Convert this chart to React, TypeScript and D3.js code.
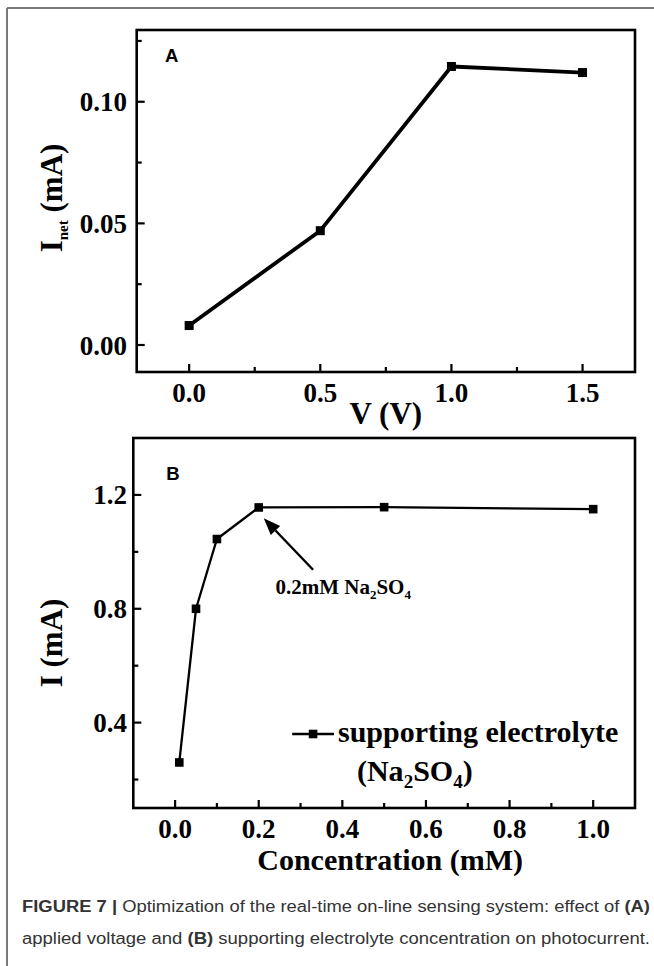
import React from 'react';
import * as d3 from 'd3';

// ---------- data ----------
const voltageA = [0, 0.5, 1.0, 1.5];
const currentA = [0.008, 0.047, 0.1145, 0.112];

const concB = [0.01, 0.05, 0.1, 0.2, 0.5, 1.0];
const currentB = [0.26, 0.8, 1.045, 1.156, 1.157, 1.15];

const xTicksA = [0, 0.5, 1.0, 1.5];
const xTickLabelsA = ['0.0', '0.5', '1.0', '1.5'];
const xMinorA = [0.25, 0.75, 1.25];
const yTicksA = [0, 0.05, 0.1];
const yTickLabelsA = ['0.00', '0.05', '0.10'];
const yMinorA = [0.025, 0.075, 0.125];

const xTicksB = [0, 0.2, 0.4, 0.6, 0.8, 1.0];
const xTickLabelsB = ['0.0', '0.2', '0.4', '0.6', '0.8', '1.0'];
const xMinorB = [0.1, 0.3, 0.5, 0.7, 0.9];
const yTicksB = [0.4, 0.8, 1.2];
const yTickLabelsB = ['0.4', '0.8', '1.2'];
const yMinorB = [0.2, 0.6, 1.0];

// annotation (data units of panel B)
const arrowTail = [0.33, 0.937];
const arrowTip = [0.212, 1.118];
const annotationAt = [0.24, 0.852];
// legend sample line (data units of panel B): x start, x end, y
const legendLine = [0.28, 0.38, 0.36];
const legendSecondLine = [0.435, 0.195];

const SERIF = '"Liberation Serif", "Times New Roman", serif';
const SANS = '"Liberation Sans", Arial, sans-serif';

export default function App() {
  const W = 654;
  const H = 966;

  const xA = d3.scaleLinear().domain([-0.2, 1.7]).range([136.7, 635]);
  const yA = d3.scaleLinear().domain([-0.0111, 0.1295]).range([372, 30]);
  const xB = d3.scaleLinear().domain([-0.1, 1.1]).range([133.3, 635]);
  const yB = d3.scaleLinear().domain([0.1, 1.4]).range([808, 438]);

  const lineA = d3
    .line<number>()
    .x((_, i) => xA(voltageA[i]))
    .y((d) => yA(d));
  const lineB = d3
    .line<number>()
    .x((_, i) => xB(concB[i]))
    .y((d) => yB(d));

  const majorLen = 8;
  const minorLen = 5;
  const tickFont = 27;

  const frame = (x: any, y: any) => {
    const [x0, x1] = x.range();
    const [y0, y1] = y.range();
    return (
      <rect
        x={x0}
        y={y1}
        width={x1 - x0}
        height={y0 - y1}
        fill="none"
        stroke="#000"
        strokeWidth={2.6}
      />
    );
  };

  const xAxisTicks = (x: any, y: any, major: number[], minor: number[], labels: string[]) => {
    const yb = y.range()[0];
    return (
      <g>
        {major.map((t, i) => (
          <g key={'M' + i}>
            <line x1={x(t)} x2={x(t)} y1={yb} y2={yb - majorLen} stroke="#000" strokeWidth={2.2} />
            <text
              x={x(t)}
              y={yb + 30}
              textAnchor="middle"
              fontFamily={SERIF}
              fontWeight="bold"
              fontSize={tickFont}
              fill="#000"
            >
              {labels[i]}
            </text>
          </g>
        ))}
        {minor.map((t, i) => (
          <line key={'m' + i} x1={x(t)} x2={x(t)} y1={yb} y2={yb - minorLen} stroke="#000" strokeWidth={2.2} />
        ))}
      </g>
    );
  };

  const yAxisTicks = (x: any, y: any, major: number[], minor: number[], labels: string[]) => {
    const xl = x.range()[0];
    return (
      <g>
        {major.map((t, i) => (
          <g key={'M' + i}>
            <line x1={xl} x2={xl + majorLen} y1={y(t)} y2={y(t)} stroke="#000" strokeWidth={2.2} />
            <text
              x={127}
              y={y(t) + 9.5}
              textAnchor="end"
              fontFamily={SERIF}
              fontWeight="bold"
              fontSize={tickFont}
              fill="#000"
            >
              {labels[i]}
            </text>
          </g>
        ))}
        {minor.map((t, i) => (
          <line key={'m' + i} x1={xl} x2={xl + minorLen} y1={y(t)} y2={y(t)} stroke="#000" strokeWidth={2.2} />
        ))}
      </g>
    );
  };

  // arrow geometry
  const tipX = xB(arrowTip[0]);
  const tipY = yB(arrowTip[1]);
  const tailX = xB(arrowTail[0]);
  const tailY = yB(arrowTail[1]);
  const ang = Math.atan2(tipY - tailY, tipX - tailX);
  const headL = 17;
  const headW = 6.5;
  const bx = tipX - headL * Math.cos(ang);
  const by = tipY - headL * Math.sin(ang);
  const head = `M${tipX},${tipY} L${bx + headW * Math.sin(ang)},${by - headW * Math.cos(ang)} L${
    bx - headW * Math.sin(ang)
  },${by + headW * Math.cos(ang)} Z`;

  const legY = yB(legendLine[2]);
  const legX0 = xB(legendLine[0]);
  const legX1 = xB(legendLine[1]);

  return (
    <svg
      width={W}
      height={H}
      style={{ position: 'absolute', left: 0, top: 0, display: 'block', background: '#fff' }}
    >
      <rect x={0} y={0} width={W} height={H} fill="#fff" />
      {/* outer frame */}
      <line x1={7} x2={W} y1={8} y2={8} stroke="#7a7a7a" strokeWidth={2} />
      <line x1={7} x2={7} y1={8} y2={H} stroke="#7a7a7a" strokeWidth={2} />

      {/* ---------- Panel A ---------- */}
      {frame(xA, yA)}
      {xAxisTicks(xA, yA, xTicksA, xMinorA, xTickLabelsA)}
      {yAxisTicks(xA, yA, yTicksA, yMinorA, yTickLabelsA)}
      <path d={lineA(currentA) || ''} fill="none" stroke="#000" strokeWidth={3.8} strokeLinejoin="round" />
      {currentA.map((v, i) => (
        <rect key={i} x={xA(voltageA[i]) - 4.5} y={yA(v) - 4.5} width={9} height={9} fill="#000" />
      ))}
      <text x={171.7} y={61.7} textAnchor="middle" fontFamily={SANS} fontWeight="bold" fontSize={18.5}>
        A
      </text>
      <text
        transform={`translate(62, 198) rotate(-90)`}
        textAnchor="middle"
        fontFamily={SERIF}
        fontWeight="bold"
        fontSize={31}
        fill="#000"
      >
        I
        <tspan fontSize={15} dy={6}>
          net
        </tspan>
        <tspan dy={-6}> (mA)</tspan>
      </text>
      <text
        x={(xA.range()[0] + xA.range()[1]) / 2}
        y={424}
        textAnchor="middle"
        fontFamily={SERIF}
        fontWeight="bold"
        fontSize={31}
        fill="#000"
      >
        V (V)
      </text>

      {/* ---------- Panel B ---------- */}
      {frame(xB, yB)}
      {xAxisTicks(xB, yB, xTicksB, xMinorB, xTickLabelsB)}
      {yAxisTicks(xB, yB, yTicksB, yMinorB, yTickLabelsB)}
      <path d={lineB(currentB) || ''} fill="none" stroke="#000" strokeWidth={2.3} strokeLinejoin="round" />
      {currentB.map((v, i) => (
        <rect key={i} x={xB(concB[i]) - 4.3} y={yB(v) - 4.3} width={8.6} height={8.6} fill="#000" />
      ))}
      <text x={173} y={480} textAnchor="middle" fontFamily={SANS} fontWeight="bold" fontSize={18.5}>
        B
      </text>
      <text
        transform={`translate(62, 643) rotate(-90)`}
        textAnchor="middle"
        fontFamily={SERIF}
        fontWeight="bold"
        fontSize={31}
        fill="#000"
      >
        I (mA)
      </text>
      <text
        x={(xB.range()[0] + xB.range()[1]) / 2 + 6}
        y={870}
        textAnchor="middle"
        fontFamily={SERIF}
        fontWeight="bold"
        fontSize={30}
        fill="#000"
      >
        Concentration (mM)
      </text>

      {/* annotation */}
      <line x1={tailX} y1={tailY} x2={bx} y2={by} stroke="#000" strokeWidth={2.4} />
      <path d={head} fill="#000" />
      <text
        x={xB(annotationAt[0])}
        y={yB(annotationAt[1])}
        fontFamily={SERIF}
        fontWeight="bold"
        fontSize={21}
        fill="#000"
      >
        0.2mM Na
        <tspan fontSize={13} dy={5}>
          2
        </tspan>
        <tspan dy={-5}>SO</tspan>
        <tspan fontSize={13} dy={5}>
          4
        </tspan>
      </text>

      {/* legend */}
      <line x1={legX0} x2={legX1} y1={legY} y2={legY} stroke="#000" strokeWidth={2.3} />
      <rect x={(legX0 + legX1) / 2 - 4.3} y={legY - 4.3} width={8.6} height={8.6} fill="#000" />
      <text x={legX1 + 4} y={legY + 8} fontFamily={SERIF} fontWeight="bold" fontSize={30} fill="#000">
        supporting electrolyte
      </text>
      <text
        x={xB(legendSecondLine[0])}
        y={yB(legendSecondLine[1])}
        fontFamily={SERIF}
        fontWeight="bold"
        fontSize={30}
        fill="#000"
      >
        (Na
        <tspan fontSize={19} dy={7}>
          2
        </tspan>
        <tspan dy={-7}>SO</tspan>
        <tspan fontSize={19} dy={7}>
          4
        </tspan>
        <tspan dy={-7}>)</tspan>
      </text>

      {/* caption */}
      <text x={22} y={912} fontFamily={SANS} fontSize={16} fill="#333" textLength={628} lengthAdjust="spacingAndGlyphs">
        <tspan fontWeight="bold">FIGURE 7 |</tspan> Optimization of the real-time on-line sensing system: effect of{' '}
        <tspan fontWeight="bold">(A)</tspan>
      </text>
      <text x={22} y={944} fontFamily={SANS} fontSize={16} fill="#333" textLength={628} lengthAdjust="spacingAndGlyphs">
        applied voltage and <tspan fontWeight="bold">(B)</tspan> supporting electrolyte concentration on photocurrent.
      </text>
    </svg>
  );
}
